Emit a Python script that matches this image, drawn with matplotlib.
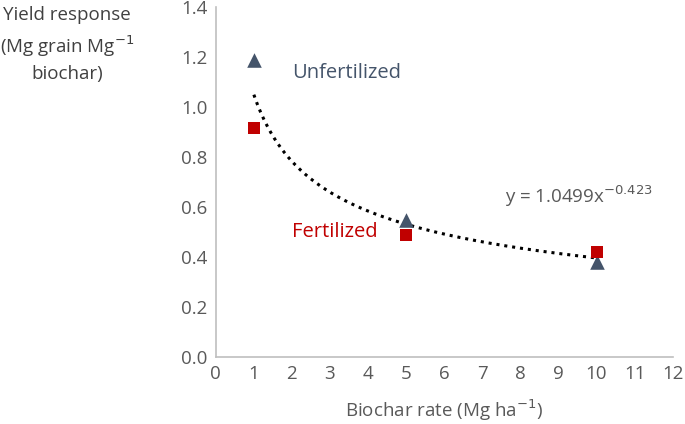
import matplotlib
matplotlib.use("Agg")
import matplotlib.pyplot as plt
import numpy as np

plt.rcParams['font.family'] = ['Open Sans', 'DejaVu Sans']
plt.rcParams['axes.unicode_minus'] = False

rates = [1, 5, 10]
unfertilized = [1.19, 0.55, 0.38]
fertilized = [0.915, 0.49, 0.42]
coef_a = 1.0499
coef_b = -0.423
xticks = list(range(0, 13))
yticks = [0.0, 0.2, 0.4, 0.6, 0.8, 1.0, 1.2, 1.4]

fig = plt.figure(figsize=(6.85, 4.24), dpi=100)
ax = fig.add_axes([0.315, 0.158, 0.667, 0.825])

xs = np.linspace(1, 10, 200)
ax.plot(xs, coef_a * xs ** coef_b, color='black', linestyle=(0, (1, 1.6)), linewidth=2.2, zorder=2)
ax.scatter(rates, unfertilized, marker='^', s=110, color='#44546A', zorder=3, linewidths=0)
ax.scatter(rates, fertilized, marker='s', s=75, color='#C00000', zorder=3, linewidths=0)

ax.set_xlim(0, 12)
ax.set_ylim(0, 1.4)
ax.set_xticks(xticks)
ax.set_yticks(yticks)
ax.set_yticklabels([f"{v:.1f}" for v in yticks])
ax.tick_params(length=0, labelsize=13.5, colors='#595959', pad=6)
for s in ['top', 'right']:
    ax.spines[s].set_visible(False)
for s in ['left', 'bottom']:
    ax.spines[s].set_color('#BFBFBF')
    ax.spines[s].set_linewidth(1.2)

ax.set_xlabel('Biochar rate (Mg ha$^{-1}$)', fontsize=13.5, color='#595959', labelpad=10)

fig.text(0.098, 0.985, 'Yield response\n(Mg grain Mg$^{-1}$\nbiochar)', ha='center', va='top',
         fontsize=13.5, color='#404040', linespacing=1.45)

ax.text(2.0, 1.135, 'Unfertilized', fontsize=14.5, color='#44546A', va='center')
ax.text(2.0, 0.5, 'Fertilized', fontsize=14.5, color='#C00000', va='center')
ax.text(7.6, 0.645, 'y = 1.0499x$^{-0.423}$', fontsize=13.5, color='#595959', va='center')

fig.savefig('out.png', dpi=100)
